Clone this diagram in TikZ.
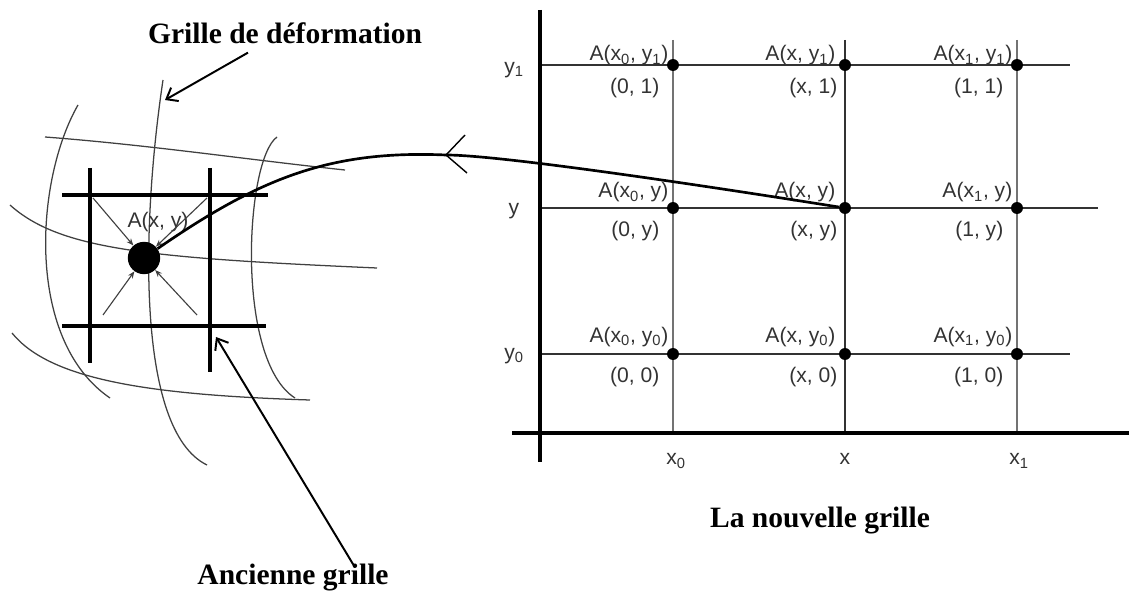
\documentclass[tikz,border=0pt]{standalone}
\usepackage{fontspec}
\setmainfont{Liberation Serif}
\setsansfont{Liberation Sans}
\usetikzlibrary{arrows.meta,positioning,calc}

\begin{document}
\begin{tikzpicture}[
    x=0.025cm, y=-0.025cm,
    oldline/.style={line width=3pt},
    warp/.style={black!75, line width=0.9pt},
    gridv/.style={black!55, line width=1.5pt},
    gridh/.style={black!80, line width=1.3pt},
    axis/.style={line width=2.2pt},
    dot/.style={circle, fill, inner sep=0pt, minimum size=8.5pt},
    ptlab/.style={font=\sffamily\fontsize{15}{17}\selectfont, text=black!80, inner sep=1pt},
    title/.style={font=\bfseries\fontsize{21}{23}\selectfont, inner sep=2pt},
    pointer/.style={line width=1.4pt, -{Straight Barb[length=7pt, width=11pt]}},
    small/.style={black!75, line width=0.8pt, -{Stealth[length=5pt, width=4pt]}}
]
\useasboundingbox (0,0) rectangle (1129,596);

% la nouvelle grille
\draw[gridv] (673,40) -- (673,433);
\draw[gridh] (845,40) -- (845,433);
\draw[gridv] (1017,40) -- (1017,433);
\draw[gridh] (540,65) -- (1070,65);
\draw[gridh] (540,208) -- (1098,208);
\draw[gridh] (540,354) -- (1070,354);
\draw[axis] (540,10) -- (540,462);
\draw[axis] (512,433) -- (1129,433);

\foreach \n/\cx/\X/\dx/\ex/\C in {0/673/x\textsubscript{0}/-3/-12/0, x/845/x/-8/-6/x, 1/1017/x\textsubscript{1}/-3/-12/1}
  \foreach \m/\ry/\Y/\dy/\D in {1/65/y\textsubscript{1}/-4/1, y/208/y/-10/y, 0/354/y\textsubscript{0}/-12/0} {
    \node[dot] (n\n\m) at (\cx,\ry) {};
    \node[ptlab, anchor=base east] (la\n\m) at ($(n\n\m)+(\dx,\dy)$) {A(\X, \Y)};
    \node[ptlab, anchor=north east] (lc\n\m) at ($(n\n\m)+(\ex,12)$) {(\C, \D)};
  }

\node[ptlab] (ly1) at (514,70) {y\textsubscript{1}};
\node[ptlab] (lyy) at (514,211) {y};
\node[ptlab] (ly0) at (514,356) {y\textsubscript{0}};
\node[ptlab] (lx0) at (676,461) {x\textsubscript{0}};
\node[ptlab] (lxx) at (845,459) {x};
\node[ptlab] (lx1) at (1019,461) {x\textsubscript{1}};

\node[title] (tnew) at (820,521) {La nouvelle grille};

% grille de deformation
\draw[warp] (78,105) .. controls (35,180) and (25,340) .. (110,398);
\draw[warp] (163,80) .. controls (142,220) and (135,430) .. (207,465);
\draw[warp] (277,137) .. controls (245,160) and (235,360) .. (295,398);
\draw[warp] (45,137) .. controls (150,145) and (250,160) .. (345,170);
\draw[warp] (10,205) .. controls (60,250) and (150,258) .. (377,268);
\draw[warp] (12,333) .. controls (50,380) and (150,395) .. (310,400);

% ancienne grille
\draw[oldline] (62,195) -- (268,195);
\draw[oldline] (62,326) -- (266,326);
\draw[oldline] (90,168) -- (90,363);
\draw[oldline] (210,168) -- (210,372);

\node[circle, fill, inner sep=0pt, minimum size=23pt] (old) at (144,258) {};
\node[ptlab] (lold) at (158,222) {A(x, y)};
\coordinate (c1) at (93,198);
\coordinate (c2) at (207,198);
\coordinate (c3) at (103,315);
\coordinate (c4) at (197,315);
\draw[small] (c1) -- (old);
\draw[small] (c2) -- (old);
\draw[small] (c3) -- (old);
\draw[small] (c4) -- (old);

% liaison
\coordinate (mid) at (446,155);
\draw[line width=1.9pt] (old) .. controls (260,178) and (330,150) .. (mid)
    .. controls (500,155) and (700,185) .. (nxy);
\draw[line width=1pt] ($(mid)+(19,-20)$) -- (mid) -- ($(mid)+(21,18)$);

\node[title] (tdef) at (285,33) {Grille de déformation};
\coordinate (cdef) at (165,100);
\draw[pointer] ($(tdef.south)+(-37,6)$) -- (cdef);

\node[title] (told) at (293,578) {Ancienne grille};
\coordinate (cold) at (216,337);
\draw[pointer] ($(told.north)+(62,6)$) -- (cold);
\end{tikzpicture}
\end{document}
